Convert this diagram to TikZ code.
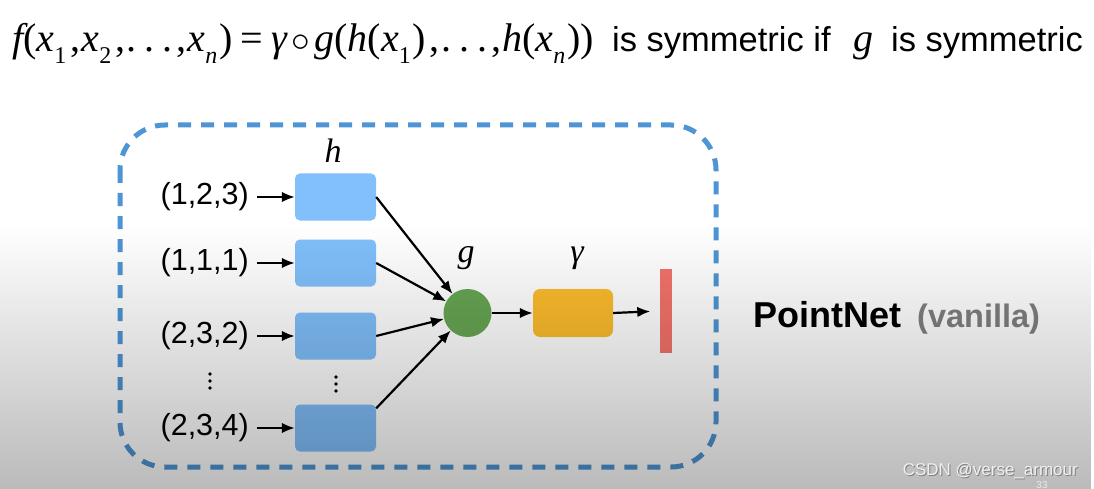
\documentclass[tikz,border=0pt]{standalone}
\usepackage{fontspec}
\setmainfont{Liberation Sans}
\newfontfamily\tms{Liberation Serif}
\usetikzlibrary{arrows.meta,fadings}
\tikzfading[name=downfade, top color=transparent!100, bottom color=transparent!0]
\definecolor{dashblue}{HTML}{4E95D5}
\definecolor{hblue}{HTML}{81C0FB}
\definecolor{ggreen}{HTML}{66A653}
\definecolor{gorange}{HTML}{FDBC2C}
\definecolor{bred}{HTML}{F3736A}
\definecolor{vgray}{HTML}{808080}
\newcommand\vi[1]{{\itshape #1}}
\newcommand\vsub[1]{\raisebox{-0.3em}{\fontsize{24}{24}\selectfont #1}}
\newcommand\cm{\kern0.1em,\kern0.03em}
\newcommand\dts{.\kern0.2em.\kern0.2em.}
\begin{document}
\begin{tikzpicture}[x=1pt,y=-1pt,
  arr/.style={-{Latex[length=13pt,width=10.5pt]}, line width=2.2pt},
  hbox/.style={rounded corners=5pt, fill=hblue, minimum width=81pt, minimum height=47pt, inner sep=0pt},
  inp/.style={font=\fontsize{30.5}{30.5}\selectfont, inner sep=0pt, anchor=east},
  lbl/.style={font=\fontsize{34}{34}\selectfont\tms\itshape, inner sep=0pt},
  dashbox/.style={draw=dashblue, line width=5pt, dash pattern=on 13pt off 10pt, rounded corners=45pt}]
\useasboundingbox (0,0) rectangle (1094,489);
\fill[white] (0,0) rectangle (1094,489);

% top formula
\node[anchor=base west, inner sep=0pt, font=\fontsize{40}{40}\selectfont\tms] (fx) at (12,52)
  {\vi{f}(\vi{x}\vsub{1}\cm\vi{x}\vsub{2}\cm\dts\cm\vi{x}\vsub{\vi{n}}\kern0.05em)\kern0.2em=\kern0.2em\vi{γ}\kern0.12em\raisebox{0.02em}{\scalebox{1.5}{$\circ$}}\kern0.1em\vi{g}(\vi{h}(\vi{x}\vsub{1}\kern0.04em)\cm\dts\cm\vi{h}(\vi{x}\vsub{\vi{n}}\kern0.05em))};
\node[anchor=base west, inner sep=0pt, font=\fontsize{34.5}{34.5}\selectfont] (t1) at (612,52) {is symmetric if};
\node[anchor=base west, inner sep=0pt, font=\fontsize{40}{40}\selectfont\tms\itshape] (t2) at (853,52) {g};
\node[anchor=base west, inner sep=0pt, font=\fontsize{34.5}{34.5}\selectfont] (t3) at (891,52) {is symmetric};

% dashed frame
\draw[dashbox] (120,125) rectangle (716,467);

% h boxes
\node[hbox] (h1) at (335.5,197) {};
\node[hbox] (h2) at (335.5,263) {};
\node[hbox] (h3) at (335.5,336) {};
\node[hbox] (h4) at (335.5,428) {};
\node[lbl] (hl) at (333,151) {h};

% inputs
\node[inp] (in1) at (249,197) {(1,2,3)};
\node[inp] (in2) at (249,263) {(1,1,1)};
\node[inp] (in3) at (249,336) {(2,3,2)};
\node[inp] (in4) at (249,428) {(2,3,4)};
\foreach \i in {1,...,4} \draw[arr, shorten <=8pt] (in\i.east) -- (h\i.west);

% vertical dots
\foreach \yy in {374,381,388} \fill (210,\yy) circle (1.8pt);
\foreach \yy in {377,384,391} \fill (336,\yy) circle (1.8pt);

% g, gamma, output
\node[circle, fill=ggreen, minimum size=48pt, inner sep=0pt] (g) at (467.5,313) {};
\node[lbl] (gl) at (466,258) {g};
\node[rounded corners=7pt, fill=gorange, minimum width=80pt, minimum height=48pt, inner sep=0pt] (gam) at (573,313) {};
\node[lbl] (gaml) at (577,258) {γ};
\node[fill=bred, minimum width=12pt, minimum height=84pt, inner sep=0pt] (bar) at (665.5,311) {};

\draw[arr] (h1.east) -- (g);
\draw[arr] (h2.east) -- (g);
\draw[arr] (h3.east) -- (g);
\draw[arr] ([yshift=-4pt]h4.north east) -- (g);
\draw[arr] (g.east) -- (gam.west);
\draw[arr, shorten >=9pt] (gam.east) -- (bar.west);

% title
\node[anchor=base west, inner sep=0pt, font=\fontsize{36}{36}\selectfont\bfseries] (pn) at (753,327) {PointNet};
\node[anchor=base west, inner sep=0pt, font=\fontsize{32.5}{32.5}\selectfont\bfseries, text=vgray] (van) at (917,327) {(vanilla)};

% bottom shade
\fill[black, opacity=0.27, path fading=downfade] (0,225) rectangle (1094,489);

% watermark
\node[anchor=base east, inner sep=0pt, font=\fontsize{17}{17}\selectfont, text=black!50] (wms) at (1079,476) {CSDN @verse\_armour};
\node[anchor=base east, inner sep=0pt, font=\fontsize{17}{17}\selectfont, text=white!94!black] (wm) at (1078,475) {CSDN @verse\_armour};
\node[anchor=north, inner sep=0pt, font=\fontsize{10}{10}\selectfont, text=white!92!black] (pg) at (1042,481) {33};
\end{tikzpicture}
\end{document}
